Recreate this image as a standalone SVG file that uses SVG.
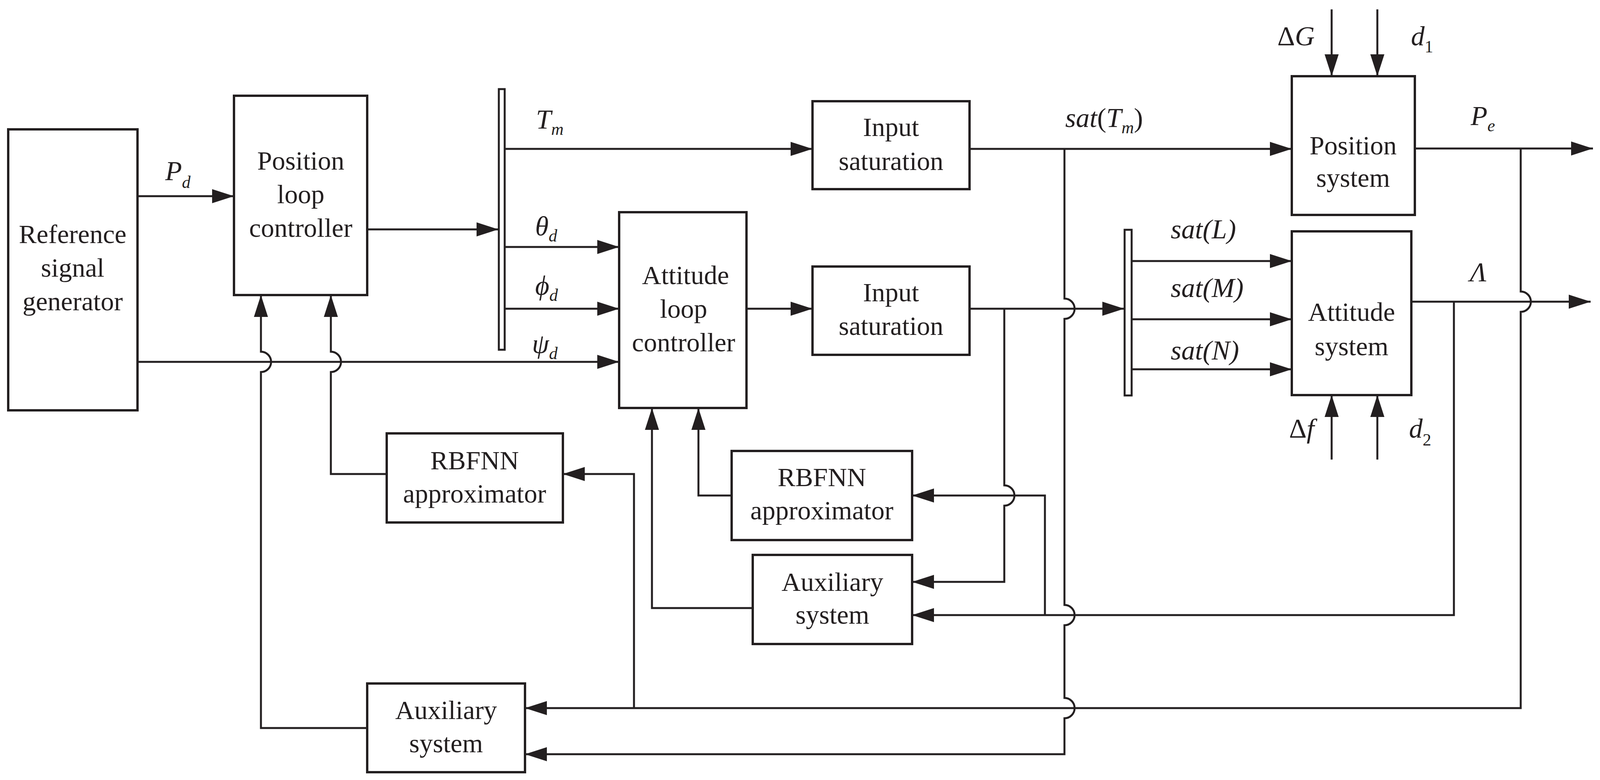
<svg xmlns="http://www.w3.org/2000/svg" width="4108" height="1996" viewBox="0 0 4108 1996">
<style>
.b{fill:#fff;stroke:#231f20;stroke-width:6}
.t{font-family:"Liberation Serif",serif;font-size:68px;fill:#231f20;text-anchor:middle}
.m{font-family:"Liberation Serif",serif;font-size:70px;font-style:italic;fill:#231f20}
.s{font-size:44px}
.c{fill:none;stroke:#231f20;stroke-width:5}
</style>
<defs>
<marker id="a" markerUnits="userSpaceOnUse" markerWidth="58" markerHeight="38" refX="56" refY="18" orient="auto"><path d="M0,0 L56,18 L0,36 z" fill="#231f20"/></marker>
</defs>
<g id="refgen"><rect class="b" x="21" y="331" width="331" height="719"/><text class="t" x="186" y="622">Reference</text><text class="t" x="186" y="708">signal</text><text class="t" x="186" y="794">generator</text></g>
<g id="posctrl"><rect class="b" x="599" y="245" width="341" height="510"/><text class="t" x="770" y="434">Position</text><text class="t" x="770" y="520">loop</text><text class="t" x="770" y="606">controller</text></g>
<g id="mux1"><rect class="b" x="1277" y="228" width="15" height="667" style="stroke-width:5"/></g>
<g id="attctrl"><rect class="b" x="1585" y="543" width="326" height="501"/><text class="t" x="1755" y="727">Attitude</text><text class="t" x="1750" y="813">loop</text><text class="t" x="1750" y="899">controller</text></g>
<g id="insat1"><rect class="b" x="2080" y="259" width="402" height="225"/><text class="t" x="2281" y="348">Input</text><text class="t" x="2281" y="435">saturation</text></g>
<g id="insat2"><rect class="b" x="2080" y="682" width="402" height="226"/><text class="t" x="2281" y="771">Input</text><text class="t" x="2281" y="857">saturation</text></g>
<g id="mux2"><rect class="b" x="2879" y="588" width="18" height="424" style="stroke-width:5"/></g>
<g id="possys"><rect class="b" x="3307" y="195" width="315" height="355"/><text class="t" x="3464" y="395">Position</text><text class="t" x="3464" y="478">system</text></g>
<g id="attsys"><rect class="b" x="3307" y="592" width="306" height="419"/><text class="t" x="3460" y="821">Attitude</text><text class="t" x="3460" y="909">system</text></g>
<g id="rbf1"><rect class="b" x="990" y="1109" width="451" height="228"/><text class="t" x="1215" y="1201">RBFNN</text><text class="t" x="1215" y="1286">approximator</text></g>
<g id="rbf2"><rect class="b" x="1873" y="1154" width="462" height="228"/><text class="t" x="2104" y="1244">RBFNN</text><text class="t" x="2104" y="1329">approximator</text></g>
<g id="aux1"><rect class="b" x="1927" y="1420" width="408" height="228"/><text class="t" x="2131" y="1512">Auxiliary</text><text class="t" x="2131" y="1596">system</text></g>
<g id="aux2"><rect class="b" x="940" y="1749" width="404" height="227"/><text class="t" x="1142" y="1840">Auxiliary</text><text class="t" x="1142" y="1925">system</text></g>
<g id="connectors">
<path class="c" d="M352,502 H599" marker-end="url(#a)"/>
<path class="c" d="M940,587 H1276" marker-end="url(#a)"/>
<path class="c" d="M1293,381 H2080" marker-end="url(#a)"/>
<path class="c" d="M1293,632 H1585" marker-end="url(#a)"/>
<path class="c" d="M1293,790 H1585" marker-end="url(#a)"/>
<path class="c" d="M352,926 H1585" marker-end="url(#a)"/>
<path class="c" d="M1911,790 H2080" marker-end="url(#a)"/>
<path class="c" d="M2482,381 H3307" marker-end="url(#a)"/>
<path class="c" d="M2482,790 H2878" marker-end="url(#a)"/>
<path class="c" d="M2898,668 H3307" marker-end="url(#a)"/>
<path class="c" d="M2898,817 H3307" marker-end="url(#a)"/>
<path class="c" d="M2898,945 H3307" marker-end="url(#a)"/>
<path class="c" d="M3622,380 H4078" marker-end="url(#a)"/>
<path class="c" d="M3613,772 H4072" marker-end="url(#a)"/>
<path class="c" d="M3409,24 V195" marker-end="url(#a)"/>
<path class="c" d="M3526,24 V195" marker-end="url(#a)"/>
<path class="c" d="M3409,1176 V1011" marker-end="url(#a)"/>
<path class="c" d="M3526,1176 V1011" marker-end="url(#a)"/>
<path class="c" d="M940,1863 H668 V952 a26,26 0 0 0 0,-52 V755" marker-end="url(#a)"/>
<path class="c" d="M990,1213 H847 V952 a26,26 0 0 0 0,-52 V755" marker-end="url(#a)"/>
<path class="c" d="M1927,1556 H1669 V1044" marker-end="url(#a)"/>
<path class="c" d="M1873,1268 H1788 V1044" marker-end="url(#a)"/>
<path class="c" d="M2571,790 V1242 a26,26 0 0 1 0,52 V1489 H2335" marker-end="url(#a)"/>
<path class="c" d="M2675,1574 V1268 H2335" marker-end="url(#a)"/>
<path class="c" d="M3722,772 V1574 H2335" marker-end="url(#a)"/>
<path class="c" d="M2725,381 V764 a26,26 0 0 1 0,52 V1548 a26,26 0 0 1 0,52 V1786 a26,26 0 0 1 0,52 V1930 H1344" marker-end="url(#a)"/>
<path class="c" d="M3893,380 V746 a26,26 0 0 1 0,52 V1812 H1344" marker-end="url(#a)"/>
<path class="c" d="M1623,1812 V1213 H1441" marker-end="url(#a)"/>
</g>
<g id="labels">
<text class="m" x="423" y="461">P<tspan class="s" dy="20">d</tspan></text>
<text class="m" x="1372" y="329">T<tspan class="s" dy="16">m</tspan></text>
<text class="m" x="1370" y="602">θ<tspan class="s" dy="16">d</tspan></text>
<text class="m" x="1370" y="754">ϕ<tspan class="s" dy="16">d</tspan></text>
<text class="m" x="1362" y="903">ψ<tspan class="s" dy="16">d</tspan></text>
<text class="m" x="2727" y="325">sat<tspan font-style="normal">(</tspan>T<tspan class="s" dy="16">m</tspan><tspan font-style="normal" dy="-16">)</tspan></text>
<text class="m" x="2997" y="610">sat(L)</text>
<text class="m" x="2997" y="760">sat(M)</text>
<text class="m" x="2997" y="920">sat(N)</text>
<text class="m" x="3270" y="116"><tspan font-style="normal">Δ</tspan>G</text>
<text class="m" x="3612" y="116">d<tspan class="s" font-style="normal" dy="18">1</tspan></text>
<text class="m" x="3765" y="320">P<tspan class="s" dy="16">e</tspan></text>
<text class="m" x="3763" y="720" font-style="normal">Λ</text>
<text class="m" x="3300" y="1120"><tspan font-style="normal">Δ</tspan>f</text>
<text class="m" x="3607" y="1120">d<tspan class="s" font-style="normal" dy="20">2</tspan></text>
</g>
</svg>
